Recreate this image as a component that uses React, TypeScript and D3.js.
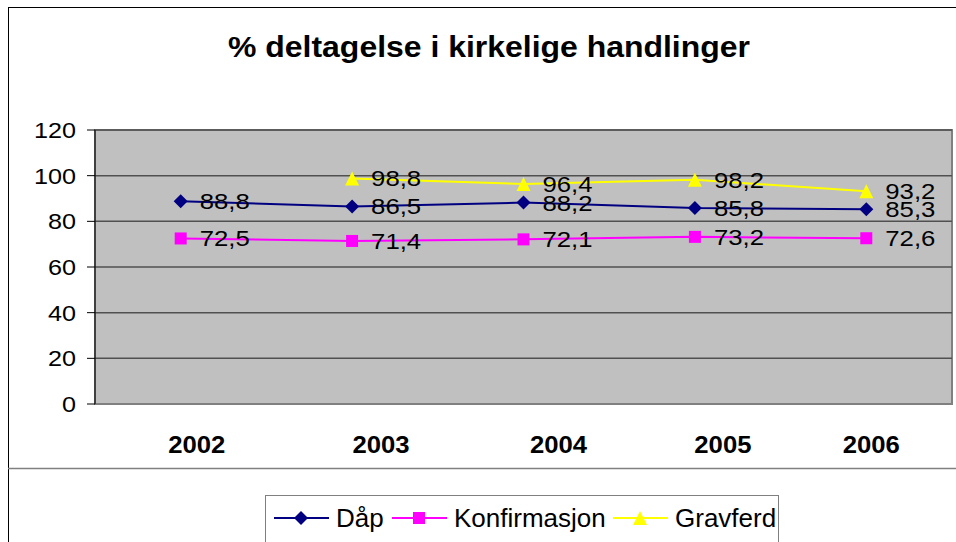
import React, { useEffect } from 'react';
import * as d3 from 'd3';

const years = ['2002', '2003', '2004', '2005', '2006'];
const daap = [88.8, 86.5, 88.2, 85.8, 85.3];
const konfirmasjon = [72.5, 71.4, 72.1, 73.2, 72.6];
const gravferd = [null, 98.8, 96.4, 98.2, 93.2];
const yTicks = [0, 20, 40, 60, 80, 100, 120];
// Excel put the year labels a little right of the points
const yearShift = [16, 29, 35, 28, 5];

const series = [
  { name: 'Dåp', values: daap, color: '#000080', marker: 'diamond' },
  { name: 'Konfirmasjon', values: konfirmasjon, color: '#FF00FF', marker: 'square' },
  { name: 'Gravferd', values: gravferd, color: '#FFFF00', marker: 'triangle' },
];

const W = 956;
const H = 542;
const FONT = '"Liberation Sans", Arial, sans-serif';

const Txt = ({ x, y, size, sx = 1, bold = false, anchor = 'start', children }: any) => (
  <text
    transform={`translate(${x},${y}) scale(${sx},1)`}
    fontFamily={FONT}
    fontSize={size}
    fontWeight={bold ? 'bold' : 'normal'}
    textAnchor={anchor}
    fill="#000"
  >
    {children}
  </text>
);

const Marker = ({ type, x, y, color }: any) => {
  if (type === 'diamond') {
    const s = 7;
    return <path d={`M${x},${y - s}L${x + s},${y}L${x},${y + s}L${x - s},${y}Z`} fill={color} />;
  }
  if (type === 'square') {
    return <rect x={x - 6} y={y - 6} width={12} height={12} fill={color} />;
  }
  const s = 7;
  return <path d={`M${x},${y - s}L${x + s},${y + s}L${x - s},${y + s}Z`} fill={color} />;
};

export default function App() {
  useEffect(() => {
    document.body.style.margin = '0';
  }, []);

  const plot = { left: 95, right: 952, top: 130, bottom: 404 };
  const x = d3.scaleBand().domain(years).range([plot.left, plot.right]).padding(0);
  const cx = (i: number) => (x(years[i]) as number) + x.bandwidth() / 2;
  const y = d3.scaleLinear().domain([0, 120]).range([plot.bottom, plot.top]);

  const line = d3
    .line<number | null>()
    .defined((d) => d !== null)
    .x((_, i) => cx(i))
    .y((d) => y(d as number));

  const legendItems = [
    { lx: 274, tx: 336 },
    { lx: 392, tx: 454 },
    { lx: 613, tx: 675 },
  ];
  const legendY = 518;

  return (
    <svg width={W} height={H} style={{ display: 'block' }}>
      <rect x={0} y={0} width={W} height={H} fill="#fff" />
      <rect x={8.5} y={7.5} width={W + 10} height={H + 10} fill="none" stroke="#000" strokeWidth={1} />

      <Txt x={489} y={57} size={30} sx={1.065} bold anchor="middle">
        % deltagelse i kirkelige handlinger
      </Txt>

      <rect
        x={plot.left}
        y={plot.top}
        width={plot.right - plot.left}
        height={plot.bottom - plot.top}
        fill="#C0C0C0"
        stroke="#808080"
        strokeWidth={2}
      />
      {yTicks.map((t) => (
        <g key={t}>
          {t > 0 && (
            <line x1={plot.left} x2={plot.right} y1={y(t)} y2={y(t)} stroke="#505050" strokeWidth={1.5} />
          )}
          <line x1={87} x2={plot.left} y1={y(t)} y2={y(t)} stroke="#000" strokeWidth={1} />
          <Txt x={76} y={y(t) + 8} size={22.5} sx={1.12} anchor="end">
            {t}
          </Txt>
        </g>
      ))}
      <line x1={plot.left} x2={plot.left} y1={plot.top} y2={plot.bottom} stroke="#000" strokeWidth={1} />

      {series.map((s) => (
        <g key={s.name}>
          <path d={line(s.values) || ''} fill="none" stroke={s.color} strokeWidth={2} />
          {s.values.map((v, i) =>
            v === null ? null : (
              <g key={i}>
                <Marker type={s.marker} x={cx(i)} y={y(v)} color={s.color} />
                <Txt x={cx(i) + 19} y={y(v) + 8} size={22} sx={1.17}>
                  {d3.format('.1f')(v).replace('.', ',')}
                </Txt>
              </g>
            )
          )}
        </g>
      ))}

      {years.map((yr, i) => (
        <Txt key={yr} x={cx(i) + yearShift[i]} y={453} size={24} sx={1.07} bold anchor="middle">
          {yr}
        </Txt>
      ))}

      <line x1={8} x2={W} y1={468.5} y2={468.5} stroke="#808080" strokeWidth={1.5} />

      <rect x={265.5} y={495.5} width={513} height={60} fill="#fff" stroke="#808080" strokeWidth={1} />
      {series.map((s, i) => (
        <g key={s.name}>
          <line
            x1={legendItems[i].lx}
            x2={legendItems[i].lx + 55}
            y1={legendY}
            y2={legendY}
            stroke={s.color}
            strokeWidth={2}
          />
          <Marker type={s.marker} x={legendItems[i].lx + 27} y={legendY} color={s.color} />
          <Txt x={legendItems[i].tx} y={legendY + 9} size={26}>
            {s.name}
          </Txt>
        </g>
      ))}
    </svg>
  );
}
